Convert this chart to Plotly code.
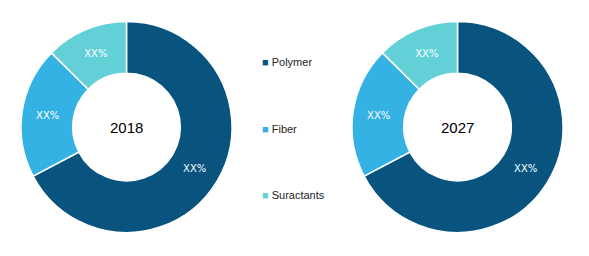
import plotly.graph_objects as go

labels = ["Polymer", "Fiber", "Suractants"]
colors = ["#08547f", "#35b2e4", "#63d0d8"]
values_2018 = [67.3, 20.1, 12.6]
values_2027 = [67.3, 20.1, 12.6]
years = ["2018", "2027"]
slice_text = ["XX%", "XX%", "XX%"]

W, H = 589, 256
fig = go.Figure()

centers = [126.5, 457.5]
R = 105.5
cy_top = 127
for vals, cx, yr in zip([values_2018, values_2027], centers, years):
    fig.add_trace(go.Pie(
        labels=labels, values=vals, sort=False, direction="clockwise", rotation=0,
        hole=0.51,
        marker=dict(colors=colors, line=dict(color="white", width=1.5)),
        text=slice_text, texttemplate="%{text}", textposition="inside",
        insidetextorientation="horizontal",
        textfont=dict(color="white", size=10, family="DejaVu Sans"),
        hoverinfo="label+percent", showlegend=False,
        domain=dict(x=[(cx - R) / W, (cx + R) / W],
                    y=[(H - cy_top - R) / H, (H - cy_top + R) / H]),
    ))
    fig.add_annotation(text=yr, x=cx / W, y=(H - cy_top) / H, xref="paper", yref="paper",
                       showarrow=False, font=dict(size=15, color="black", family="Liberation Sans"),
                       xanchor="center", yanchor="middle")

leg_y = [61.5, 129, 195]
for lab, col, ly in zip(labels, colors, leg_y):
    fig.add_annotation(
        text=f"<span style='color:{col}'>■</span> {lab}",
        x=260 / W, y=(H - ly) / H, xref="paper", yref="paper", showarrow=False,
        xanchor="left", yanchor="middle",
        font=dict(size=11, color="#222222", family="Liberation Sans"))

fig.update_layout(width=W, height=H, margin=dict(l=0, r=0, t=0, b=0),
                  paper_bgcolor="white", plot_bgcolor="white", showlegend=False)
fig.write_html("out.html")
